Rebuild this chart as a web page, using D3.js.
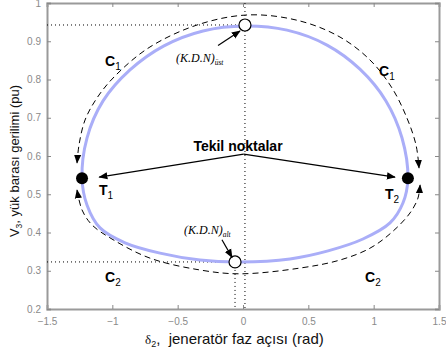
<!DOCTYPE html>
<html>
<head>
<meta charset="utf-8">
<script src="https://cdnjs.cloudflare.com/ajax/libs/d3/7.8.5/d3.min.js"></script>
<style>
body { margin: 0; background: #fff; }
svg { font-family: "Liberation Sans", Arial, sans-serif; }
.tick text { fill: #8a8a8a; font-size: 10px; }
.tick line { stroke: #888; }
.domain { stroke: #9a9a9a; stroke-width: 2; }
</style>
</head>
<body>
<svg width="446" height="356"></svg>
<script>
// tick values
var xTicks = [-1.5, -1, -0.5, 0, 0.5, 1, 1.5];
var yTicks = [0.2, 0.3, 0.4, 0.5, 0.6, 0.7, 0.8, 0.9, 1];

// closed V3 - delta2 curve
var pvCurve = [
  [0.015, 0.940], [0.337, 0.929], [0.643, 0.890], [0.895, 0.827], [1.094, 0.744],
  [1.217, 0.647], [1.262, 0.542], [1.224, 0.477], [1.125, 0.425], [0.918, 0.383],
  [0.651, 0.352], [0.360, 0.331], [-0.023, 0.323], [-0.329, 0.328], [-0.635, 0.346],
  [-0.903, 0.373], [-1.094, 0.412], [-1.194, 0.472], [-1.232, 0.542], [-1.194, 0.647],
  [-1.071, 0.744], [-0.865, 0.825], [-0.605, 0.888], [-0.306, 0.927]
];

// dashed trajectories C1 (upper) and C2 (lower), left end to right end
var c1Path = [
  [-1.270, 0.582], [-1.255, 0.629], [-1.209, 0.694], [-1.117, 0.752], [-0.980, 0.809],
  [-0.712, 0.885], [-0.329, 0.945], [0.054, 0.969], [0.436, 0.953], [0.742, 0.911],
  [0.972, 0.851], [1.140, 0.778], [1.255, 0.699], [1.324, 0.629], [1.347, 0.569]
];
var c2Path = [
  [-1.270, 0.511], [-1.232, 0.459], [-1.156, 0.420], [-1.003, 0.383], [-0.712, 0.333],
  [-0.329, 0.302], [-0.023, 0.292], [0.436, 0.307], [0.742, 0.328], [0.972, 0.359],
  [1.140, 0.401], [1.278, 0.451], [1.339, 0.490], [1.355, 0.524]
];

// singular points T1, T2 and K.D.N points
var singular = [[-1.232, 0.542], [1.262, 0.542]];
var kdnTop = [0.015, 0.9425];
var kdnBottom = [-0.061, 0.323];

var svg = d3.select("svg"),
    margin = {top: 3, right: 7, bottom: 47, left: 47},
    width = +svg.attr("width") - margin.left - margin.right,
    height = +svg.attr("height") - margin.top - margin.bottom,
    g = svg.append("g").attr("transform", "translate(" + margin.left + "," + margin.top + ")");

var x = d3.scaleLinear().domain([-1.5, 1.5]).range([0, width]);
var y = d3.scaleLinear().domain([0.2, 1]).range([height, 0]);

var defs = svg.append("defs");
defs.append("marker")
    .attr("id", "arr")
    .attr("viewBox", "0 0 10 10")
    .attr("refX", 9).attr("refY", 5)
    .attr("markerWidth", 9).attr("markerHeight", 9)
    .attr("markerUnits", "userSpaceOnUse")
    .attr("orient", "auto-start-reverse")
  .append("path")
    .attr("d", "M0,1L10,5L0,9Z")
    .attr("fill", "#000");

// axes, ticks inward (matlab style)
g.append("g")
    .attr("transform", "translate(0," + height + ")")
    .call(d3.axisBottom(x).tickValues(xTicks).tickSize(-4).tickPadding(9).tickFormat(d3.format("")));
g.append("g")
    .call(d3.axisTop(x).tickValues(xTicks).tickSize(-4).tickFormat(""));
g.append("g")
    .call(d3.axisLeft(y).tickValues(yTicks).tickSize(-4).tickPadding(6).tickFormat(d3.format("")));
g.append("g")
    .attr("transform", "translate(" + width + ",0)")
    .call(d3.axisRight(y).tickValues(yTicks).tickSize(-4).tickFormat(""));

// dotted guide lines
var dotted = [
  [[-1.5, kdnTop[1]], kdnTop],
  [[kdnTop[0], 1], [kdnTop[0], 0.2]],
  [[-1.5, kdnBottom[1]], kdnBottom],
  [kdnBottom, [kdnBottom[0], 0.2]]
];
var line = d3.line()
    .x(function(d) { return x(d[0]); })
    .y(function(d) { return y(d[1]); });

g.selectAll(".dot-line")
    .data(dotted)
  .enter().append("path")
    .attr("d", line)
    .attr("fill", "none")
    .attr("stroke", "#000")
    .attr("stroke-width", 1)
    .attr("stroke-dasharray", "1,3");

// blue closed curve
g.append("path")
    .datum(pvCurve)
    .attr("fill", "none")
    .attr("stroke", "#aaaef8")
    .attr("stroke-width", 3)
    .attr("d", line.curve(d3.curveCatmullRomClosed));

// dashed trajectories
var dline = d3.line()
    .x(function(d) { return x(d[0]); })
    .y(function(d) { return y(d[1]); })
    .curve(d3.curveCatmullRom);

[c1Path, c2Path].forEach(function(p) {
  g.append("path")
      .datum(p)
      .attr("fill", "none")
      .attr("stroke", "#000")
      .attr("stroke-width", 1)
      .attr("stroke-dasharray", "6,4")
      .attr("marker-start", "url(#arr)")
      .attr("marker-end", "url(#arr)")
      .attr("d", dline);
});

// singular points
g.selectAll(".sing")
    .data(singular)
  .enter().append("circle")
    .attr("cx", function(d) { return x(d[0]); })
    .attr("cy", function(d) { return y(d[1]); })
    .attr("r", 6)
    .attr("fill", "#000");

// K.D.N points
g.selectAll(".kdn")
    .data([kdnTop, kdnBottom])
  .enter().append("circle")
    .attr("cx", function(d) { return x(d[0]); })
    .attr("cy", function(d) { return y(d[1]); })
    .attr("r", 6)
    .attr("fill", "#fff")
    .attr("stroke", "#000")
    .attr("stroke-width", 1.2);

// annotation arrows (start, end)
var arrows = [
  [[0.005, 0.605], [-1.100, 0.545]],
  [[0.005, 0.605], [1.163, 0.545]],
  [[-0.191, 0.889], [-0.023, 0.927]],
  [[-0.161, 0.381], [-0.084, 0.335]]
];
g.selectAll(".ann")
    .data(arrows)
  .enter().append("path")
    .attr("d", line.curve(d3.curveLinear))
    .attr("stroke", "#000")
    .attr("stroke-width", 1.2)
    .attr("fill", "none")
    .attr("marker-end", "url(#arr)");

// labels
function sublabel(px, py, main, sub, size) {
  var t = svg.append("text")
      .attr("x", px).attr("y", py)
      .attr("font-size", size)
      .attr("font-weight", "bold");
  t.append("tspan").text(main);
  t.append("tspan").attr("dy", 4).attr("font-size", size - 4).attr("font-weight", "normal").text(sub);
}
sublabel(105, 66, "C", "1", 14);
sublabel(379, 76, "C", "1", 14);
sublabel(105, 282, "C", "2", 14);
sublabel(365, 282, "C", "2", 14);
sublabel(99, 195, "T", "1", 14);
sublabel(385, 199, "T", "2", 14);

svg.append("text")
    .attr("x", 238).attr("y", 151)
    .attr("text-anchor", "middle")
    .attr("font-size", 14)
    .attr("font-weight", "bold")
    .text("Tekil noktalar");

function kdnLabel(px, py, sub) {
  var t = svg.append("text")
      .attr("x", px).attr("y", py)
      .attr("font-family", "Liberation Serif, Times New Roman, serif")
      .attr("font-style", "italic")
      .attr("font-size", 12);
  t.append("tspan").text("(K.D.N)");
  t.append("tspan").attr("dy", 3).attr("font-size", 7.5).text(sub);
}
kdnLabel(176, 62, "üst");
kdnLabel(184, 234, "alt");

// axis titles
var xl = svg.append("text")
    .attr("x", 145).attr("y", 344)
    .attr("font-size", 15)
    .attr("fill", "#111")
    .style("white-space", "pre");
xl.append("tspan").attr("font-family", "Liberation Serif, serif").attr("font-size", 13).text("δ");
xl.append("tspan").attr("dy", 3).attr("font-size", 9).text("2");
xl.append("tspan").attr("dy", -3).text(",  jeneratör faz açısı (rad)");

var yl = svg.append("text")
    .attr("transform", "translate(19,161) rotate(-90)")
    .attr("text-anchor", "middle")
    .attr("font-size", 13)
    .attr("fill", "#111");
yl.append("tspan").text("V");
yl.append("tspan").attr("dy", 3).attr("font-size", 8.5).text("3");
yl.append("tspan").attr("dy", -3).text(", yük barası gerilimi (pu)");
</script>
</body>
</html>
